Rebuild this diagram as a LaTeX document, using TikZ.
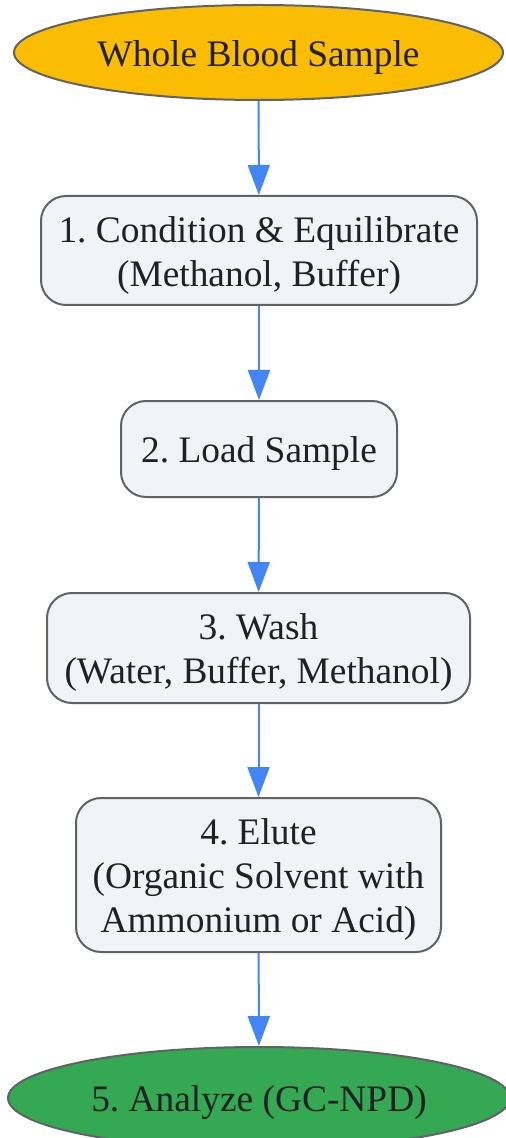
\documentclass[tikz,border=0pt]{standalone}
\usepackage{fontspec}
\setmainfont{Liberation Serif}
\usepackage{tikz}
\usetikzlibrary{shapes, arrows.meta}
\frenchspacing
\definecolor{startfill}{HTML}{FBBC04}
\definecolor{endfill}{HTML}{34A853}
\definecolor{boxfill}{HTML}{F1F3F4}
\definecolor{boxline}{HTML}{5F6368}
\definecolor{arrowblue}{HTML}{4285F4}
\definecolor{textdark}{HTML}{202124}
\newcommand{\topStrut}{\rule{0pt}{17.5pt}}
\tikzstyle{startstop} = [ellipse, inner sep=0pt, draw=boxline, line width=1pt, text=textdark, font=\fontsize{18.7}{22}\selectfont, execute at begin node=\topStrut]
\tikzstyle{process} = [rectangle, rounded corners=12.5pt, inner sep=0pt, align=center, draw=boxline, line width=1pt, fill=boxfill, text=textdark, font=\fontsize{18.7}{22}\selectfont]
\tikzstyle{arrow} = [line width=1pt, draw=arrowblue, -{Triangle[length=15pt, width=11pt, fill=arrowblue]}]

\begin{document}
\begin{tikzpicture}[x=0.5pt, y=-0.5pt]
\useasboundingbox (0,0) rectangle (505,1138);
\node (sample) [startstop, fill=startfill, minimum width=244.5pt, minimum height=47.5pt] at (258.5,52.5) {Whole Blood Sample};
\node (condition) [process, minimum width=218pt, minimum height=54.5pt] at (259,250.5) {\topStrut 1. Condition \& Equilibrate\\(Methanol, Buffer)};
\node (load) [process, minimum width=138pt, minimum height=48pt] at (259,449) {\topStrut 2. Load Sample};
\node (wash) [process, minimum width=211.5pt, minimum height=55pt] at (258.5,648) {\topStrut 3. Wash\\(Water, Buffer, Methanol)};
\node (elute) [process, minimum width=182.5pt, minimum height=77pt] at (258.5,875) {\topStrut 4. Elute\\(Organic Solvent with\\Ammonium or Acid)};
\node (analyze) [startstop, fill=endfill, minimum width=251pt, minimum height=51pt] at (259,1098) {5. Analyze (GC-NPD)};

\draw [arrow] (sample) -- (condition);
\draw [arrow] (condition) -- (load);
\draw [arrow] (load) -- (wash);
\draw [arrow] (wash) -- (elute);
\draw [arrow] (elute) -- (analyze);
\end{tikzpicture}
\end{document}
